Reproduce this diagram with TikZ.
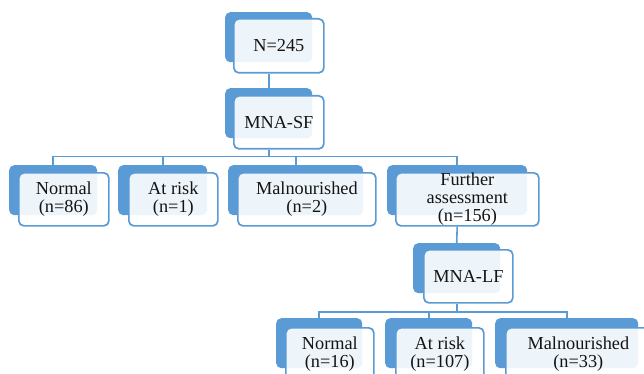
\documentclass[tikz,border=0pt]{standalone}
\usepackage{fontspec}
\setmainfont{Liberation Serif}
\definecolor{sablue}{RGB}{91,155,213}
\definecolor{txt}{RGB}{20,20,20}
\tikzset{
  backbox/.style={draw=none, fill=sablue, rounded corners=5pt, anchor=north west, minimum height=50pt, inner sep=0pt},
  frontbox/.style={draw=sablue, line width=1.7pt, fill=white, fill opacity=0.9, text opacity=1, rounded corners=5pt, anchor=north west, minimum height=53pt, inner sep=0pt, align=center, text=txt, font=\fontsize{18.3}{18}\selectfont},
  conn/.style={draw=sablue, line width=1.6pt}
}
\begin{document}
\begin{tikzpicture}[x=1pt,y=-1pt]
\useasboundingbox (0,0) rectangle (644,374);
% back boxes
\node[backbox, minimum width=87pt] (rootB) at (225,12) {};
\node[backbox, minimum width=87pt] (sfB) at (225,88) {};
\node[backbox, minimum width=88pt] (n1B) at (9,165) {};
\node[backbox, minimum width=89pt] (r1B) at (118,165) {};
\node[backbox, minimum width=135pt] (m1B) at (228,165) {};
\node[backbox, minimum width=140pt] (faB) at (387,165) {};
\node[backbox, minimum width=87pt] (lfB) at (413,243) {};
\node[backbox, minimum width=86pt] (n2B) at (276,318) {};
\node[backbox, minimum width=87pt] (r2B) at (385,318) {};
\node[backbox, minimum width=143pt] (m2B) at (495,318) {};
% front boxes
\node[frontbox, minimum width=90pt, minimum height=54pt] (root) at (233,18) {N=245};
\node[frontbox, minimum width=90pt] (sf) at (233,95) {MNA-SF};
\node[frontbox, minimum width=90pt] (n1) at (18,172) {Normal\\(n=86)};
\node[frontbox, minimum width=89pt] (r1) at (128,172) {At risk\\(n=1)};
\node[frontbox, minimum width=138pt] (m1) at (237,172) {Malnourished\\(n=2)};
\node[frontbox, minimum width=143pt] (fa) at (395,172) {Further\\assessment\\(n=156)};
\node[frontbox, minimum width=89pt] (lf) at (423,249) {MNA-LF};
\node[frontbox, minimum width=88pt] (n2) at (285,327) {Normal\\(n=16)};
\node[frontbox, minimum width=88pt] (r2) at (395,327) {At risk\\(n=107)};
\node[frontbox, minimum width=145pt] (m2) at (505,327) {Malnourished\\(n=33)};
% connectors
\draw[conn] (rootB.center |- root.south) -- (sfB.north);
\foreach \c in {n1B,r1B,m1B,faB}{
  \draw[conn] (sfB.center |- sf.south) -- ++(0,7) -| (\c.north);
}
\draw[conn] (faB.center |- fa.south) -- (lfB.north);
\foreach \c in {n2B,r2B,m2B}{
  \draw[conn] (lfB.center |- lf.south) -- ++(0,8) -| (\c.north);
}
\end{tikzpicture}
\end{document}
